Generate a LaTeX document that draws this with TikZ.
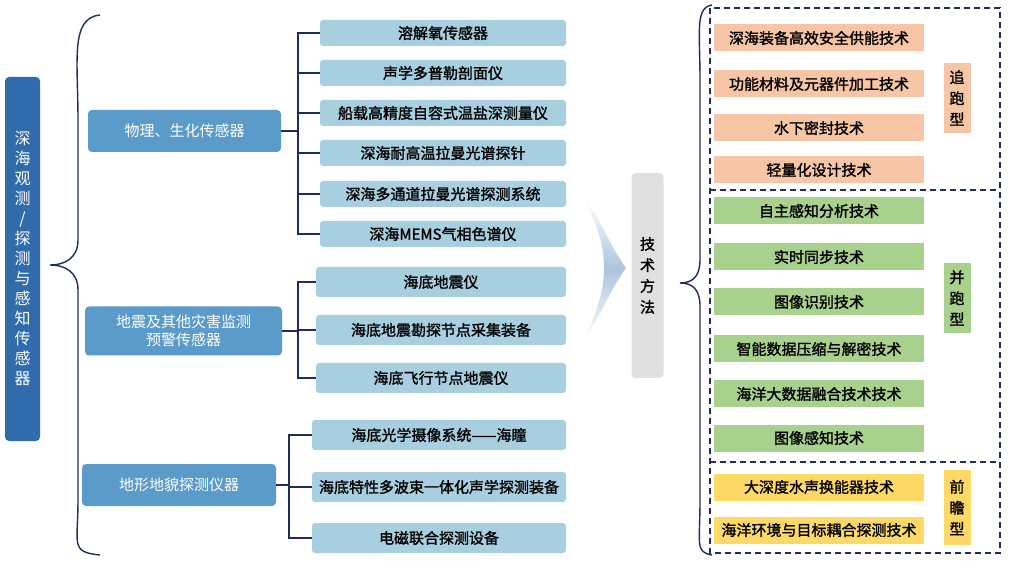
\documentclass[tikz,border=0pt]{standalone}
\usepackage{fontspec}
\setmainfont{Noto Sans CJK SC}[AutoFakeBold=1.5]
\usetikzlibrary{decorations.pathreplacing}
\definecolor{barblue}{HTML}{2F6BAD}
\definecolor{catblue}{HTML}{5B9BC9}
\definecolor{itemblue}{HTML}{A8CFE0}
\definecolor{navy}{HTML}{1F2D5A}
\definecolor{orangeitem}{HTML}{F7C6A6}
\definecolor{greenitem}{HTML}{A9D18E}
\definecolor{yellowitem}{HTML}{FFD966}
\tikzset{
  cat/.style={fill=catblue,rounded corners=4pt,text=white,font=\fontsize{15}{18}\selectfont,align=center,minimum height=42pt},
  item/.style={fill=itemblue,rounded corners=3pt,font=\fontsize{15}{16}\selectfont\bfseries,minimum height=26pt,inner sep=0pt},
  tech/.style={font=\fontsize{15}{16}\selectfont\bfseries,minimum width=210pt,minimum height=27pt,inner sep=0pt},
  tag/.style={font=\fontsize{15}{21}\selectfont\bfseries,align=center,minimum width=27pt,inner sep=0pt},
  branch/.style={navy,line width=1.6pt},
  brace/.style={navy,line width=1.4pt},
  group/.style={navy,line width=1.5pt,dash pattern=on 6pt off 4pt}
}
\begin{document}
\begin{tikzpicture}[x=1pt,y=-1pt]
        \useasboundingbox (0,0) rectangle (1010,561);

        %% root
        \node (root) [fill=barblue,rounded corners=4pt,text=white,minimum width=35pt,minimum height=364pt,
          font=\fontsize{16}{20}\selectfont,align=center] at (22.5,259)
          {深\\海\\观\\测\\/\\探\\测\\与\\感\\知\\传\\感\\器};
        \draw[brace] (100,15) .. controls (70,18) and (78,60) .. (78,120) -- (78,240)
          .. controls (78,258) and (65,265) .. (50,265)
          .. controls (65,265) and (78,272) .. (78,290) -- (78,500)
          .. controls (78,545) and (70,552) .. (100,555);

        %% categories
        \node (phy) [cat,minimum width=193pt] at (184.5,131) {物理、生化传感器};
        \node (quake) [cat,minimum width=197pt,minimum height=49pt] at (183.5,331) {地震及其他灾害监测\\预警传感器};
        \node (terr) [cat,minimum width=194pt] at (179,485) {地形地貌探测仪器};

        %% physical / chemical
        \node (p1) [item,minimum width=246pt] at (443,33) {溶解氧传感器};
        \node (p2) [item,minimum width=246pt] at (443,73) {声学多普勒剖面仪};
        \node (p3) [item,minimum width=246pt] at (443,113) {船载高精度自容式温盐深测量仪};
        \node (p4) [item,minimum width=246pt] at (443,153) {深海耐高温拉曼光谱探针};
        \node (p5) [item,minimum width=246pt] at (443,194) {深海多通道拉曼光谱探测系统};
        \node (p6) [item,minimum width=246pt] at (443,234) {深海MEMS气相色谱仪};
        \foreach \n in {p1,p2,p3,p4,p5,p6}
          \draw[branch] (phy.east) -- ++(17,0) |- (\n.west);

        %% seismic
        \node (q1) [item,minimum width=250pt,minimum height=30pt] at (441,282) {海底地震仪};
        \node (q2) [item,minimum width=250pt,minimum height=30pt] at (441,330) {海底地震勘探节点采集装备};
        \node (q3) [item,minimum width=250pt,minimum height=30pt] at (441,378) {海底飞行节点地震仪};
        \foreach \n in {q1,q2,q3}
          \draw[branch] (quake.east) -- ++(16,0) |- (\n.west);

        %% terrain
        \node (t1) [item,minimum width=254pt,minimum height=30pt] at (439,435) {海底光学摄像系统——海瞳};
        \node (t2) [item,minimum width=254pt,minimum height=30pt] at (439,487) {海底特性多波束一体化声学探测装备};
        \node (t3) [item,minimum width=254pt,minimum height=30pt] at (439,538) {电磁联合探测设备};
        \foreach \n in {t1,t2,t3}
          \draw[branch] (terr.east) -- ++(13,0) |- (\n.west);

        %% chevron and method
        \shade[top color=white,bottom color=white,middle color=barblue!40] (584,200) .. controls (600,215) and (606,240) .. (626,268)
          .. controls (606,296) and (600,320) .. (584,338) .. controls (598,310) and (604,290) .. (604,268)
          .. controls (604,246) and (598,226) .. cycle;
        \node (method) [fill=black!12,rounded corners=4pt,minimum width=32pt,minimum height=205pt,
          font=\fontsize{15}{21}\selectfont\bfseries,align=center] at (647.5,275.5) {技\\术\\方\\法};
        \draw[brace] (712,5) .. controls (695,8) and (700,30) .. (700,80) -- (700,260)
          .. controls (700,277) and (692,283) .. (680,283)
          .. controls (692,283) and (700,289) .. (700,306) -- (700,500)
          .. controls (700,545) and (695,552) .. (712,555);

        %% groups
        \draw[group] (710,8) rectangle (1000,553);
        \draw[group] (710,190) -- (1000,190);
        \draw[group] (710,462) -- (1000,462);

        \node (o1) [tech,fill=orangeitem] at (819,38) {深海装备高效安全供能技术};
        \node (o2) [tech,fill=orangeitem] at (819,84) {功能材料及元器件加工技术};
        \node (o3) [tech,fill=orangeitem] at (819,128) {水下密封技术};
        \node (o4) [tech,fill=orangeitem] at (819,170) {轻量化设计技术};
        \node (chase) [tag,fill=orangeitem,minimum height=70pt] at (957,98) {追\\跑\\型};

        \node (g1) [tech,fill=greenitem] at (819,211) {自主感知分析技术};
        \node (g2) [tech,fill=greenitem] at (819,257) {实时同步技术};
        \node (g3) [tech,fill=greenitem] at (819,302) {图像识别技术};
        \node (g4) [tech,fill=greenitem] at (819,349) {智能数据压缩与解密技术};
        \node (g5) [tech,fill=greenitem] at (819,394) {海洋大数据融合技术技术};
        \node (g6) [tech,fill=greenitem] at (819,438) {图像感知技术};
        \node (par) [tag,fill=greenitem,minimum height=70pt] at (957,298) {并\\跑\\型};

        \node (y1) [tech,fill=yellowitem] at (819,487) {大深度水声换能器技术};
        \node (y2) [tech,fill=yellowitem] at (819,530) {海洋环境与目标耦合探测技术};
        \node (ahead) [tag,fill=yellowitem,minimum height=75pt] at (957,507.5) {前\\瞻\\型};
      \end{tikzpicture}
\end{document}
